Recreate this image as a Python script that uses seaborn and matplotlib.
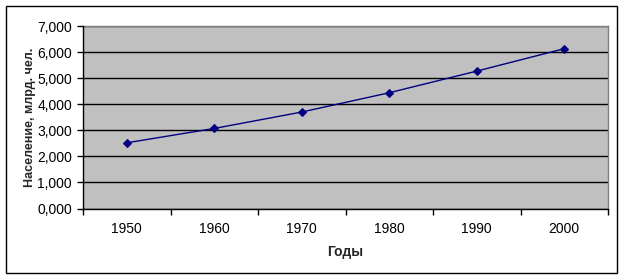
import matplotlib
matplotlib.use("Agg")
import matplotlib.pyplot as plt
import seaborn as sns
import pandas as pd
from matplotlib.patches import Rectangle
from matplotlib.ticker import FuncFormatter, FixedLocator

years = ["1950", "1960", "1970", "1980", "1990", "2000"]
population = [2.52, 3.07, 3.70, 4.44, 5.27, 6.13]
y_ticks = [0, 1, 2, 3, 4, 5, 6, 7]
x_label = "Годы"
y_label = "Население, млрд. чел."

sns.set_style("white")
plt.rcParams["font.family"] = ["Liberation Sans", "DejaVu Sans"]

df = pd.DataFrame({"year": years, "pop": population})

W, H = 624, 279
fig = plt.figure(figsize=(W / 100, H / 100), dpi=100)
fig.patch.set_facecolor("white")

left, right, top, bottom = 83, 608, 26, 208.5
ax = fig.add_axes([left / W, 1 - bottom / H, (right - left) / W, (bottom - top) / H])
ax.set_facecolor("#C0C0C0")

sns.lineplot(data=df, x="year", y="pop", ax=ax, color="#000080", linewidth=1.0,
             marker="D", markersize=4.5, markeredgecolor="#000080",
             markerfacecolor="#000080", sort=False)

ax.set_xlim(-0.5, len(years) - 0.5)
ax.set_ylim(0, 7)
ax.set_yticks(y_ticks)
ax.yaxis.set_major_formatter(FuncFormatter(lambda v, p: f"{v:.3f}".replace(".", ",")))
ax.grid(axis="y", color="black", linewidth=1.0)
ax.grid(axis="x", visible=False)
ax.set_axisbelow(True)

ax.set_xticks(range(len(years)))
ax.set_xticklabels(years)
ax.xaxis.set_minor_locator(FixedLocator([i - 0.5 for i in range(len(years) + 1)]))
ax.tick_params(axis="x", which="major", length=0, pad=10, labelsize=10, colors="black")
ax.tick_params(axis="x", which="minor", length=4, width=1, direction="out", color="black", bottom=True)
ax.tick_params(axis="y", which="major", length=4, width=1, direction="out", pad=4,
               labelsize=10, colors="black", left=True)

for s in ["top", "right"]:
    ax.spines[s].set_color("#808080")
    ax.spines[s].set_linewidth(1.0)
for s in ["left", "bottom"]:
    ax.spines[s].set_color("black")
    ax.spines[s].set_linewidth(1.0)
    ax.spines[s].set_zorder(5)

ax.set_xlabel(x_label, fontsize=10, fontweight="bold", labelpad=6)
ax.set_ylabel(y_label, fontsize=9, fontweight="bold", labelpad=1)

fig.patches.append(Rectangle((6 / W, 1 - 273 / H), (617 - 6) / W, (273 - 6) / H,
                             transform=fig.transFigure, fill=False,
                             edgecolor="black", linewidth=1.0))

fig.savefig("out.png", dpi=100, facecolor="white")
